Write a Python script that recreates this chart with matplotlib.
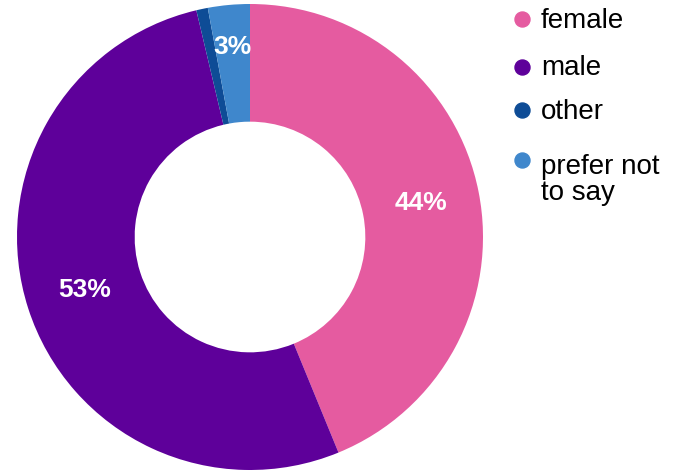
import matplotlib
matplotlib.use("Agg")
import matplotlib.pyplot as plt
from matplotlib.lines import Line2D
import numpy as np

categories = ["female", "male", "other", "prefer not\nto say"]
values = [43.8, 52.5, 0.8, 2.9]
pct_labels = ["44%", "53%", "", "3%"]
colors = ["#E55BA0", "#5E009A", "#0E4C96", "#3F87CC"]

plt.rcParams['font.family'] = ['Liberation Sans', 'DejaVu Sans']

W, H = 677, 470
fig = plt.figure(figsize=(W/100, H/100), dpi=100)
ax = fig.add_axes([17/W, 0/H, 466/W, 466/H])
wedges, _ = ax.pie(values, colors=colors, startangle=90, counterclock=False,
                   radius=1.0, wedgeprops=dict(width=0.505, edgecolor='none'))
r_lab = 1.0 - 0.505/2
for w, lab, v in zip(wedges, pct_labels, values):
    if not lab:
        continue
    ang = np.deg2rad((w.theta1 + w.theta2) / 2)
    r = r_lab + (0.07 if v < 5 else 0.0)
    ax.text(r*np.cos(ang), r*np.sin(ang), lab, ha='center', va='center',
            color='white', fontsize=19, fontweight='bold')
ax.set_xlim(-1, 1)
ax.set_ylim(-1, 1)
ax.set_aspect('equal')
ax.axis('off')

# legend (baseline given for the last line of each entry)
dot_y = [19.3, 66.7, 110, 160]
base_y = [28.3, 75, 119.3, 200]
for cat, col, dy, by in zip(categories, colors, dot_y, base_y):
    fig.add_artist(Line2D([522/W], [1 - dy/H], transform=fig.transFigure,
                          marker='o', markersize=10.8, color=col, linestyle='none'))
    fig.text(541/W, 1 - by/H, cat, color='black', fontsize=20, ha='left', va='baseline',
             linespacing=1.0)

fig.savefig("out.png", dpi=100)
